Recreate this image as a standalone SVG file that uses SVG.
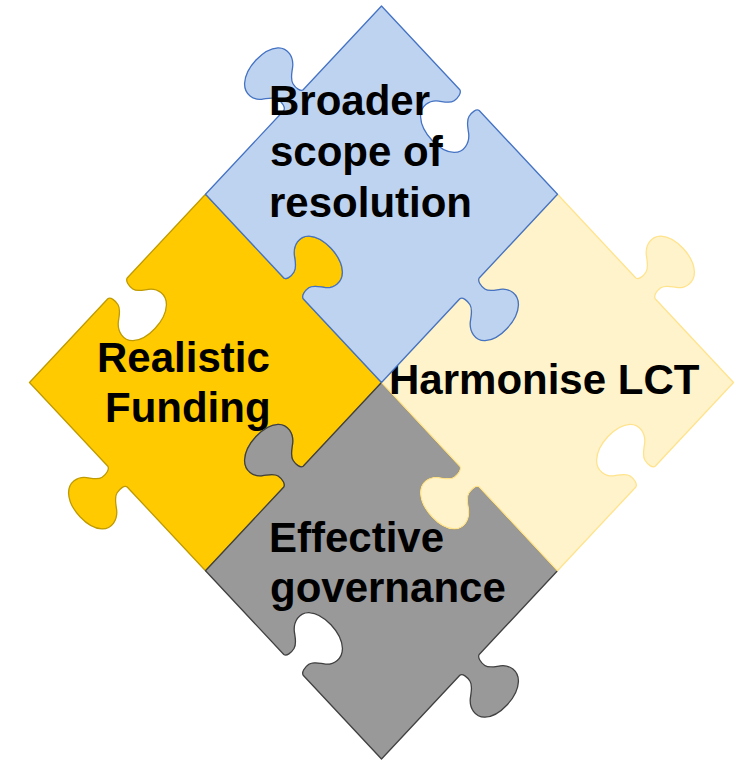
<svg xmlns="http://www.w3.org/2000/svg" width="735" height="761" viewBox="0 0 735 761">
  <style>
    .piece { stroke-width: 1.3; stroke-linejoin: round; vector-effect: non-scaling-stroke; }
    .blue { fill: #BED3EF; stroke: #4472C4; }
    .cream { fill: #FFF3CB; stroke: #FFE38C; }
    .grey { fill: #999999; stroke: #404040; }
    .gold { fill: #FFCA00; stroke: #BF9A00; }
    .label { font-family: "Liberation Sans", Arial, sans-serif; font-weight: bold; font-size: 42px; fill: #000000; }
  </style>
  <defs>
    <!-- Each piece is drawn in a square lattice (s,t) in [-100,100]; this maps it onto the diamond -->
  </defs>
  <rect width="735" height="761" fill="#FFFFFF"/>

  <!-- lower-left piece -->
  <g id="realistic-funding">
    <path class="piece gold" transform="matrix(1.76,-1.8825,-1.76,-1.8825,381.5,382.5)" d="M 0 0 L -44.5 0 C -45.8 0.3 -46.2 2.5 -45.8 4.5 C -45.4 6.5 -43.5 7.5 -41.5 9 C -38.5 11.3 -37.6 15.5 -40.5 18.3 C -43 20.6 -46.5 21.3 -50 21.3 C -53.5 21.3 -57 20.6 -59.5 18.3 C -62.4 15.5 -61.5 11.3 -58.5 9 C -56.5 7.5 -54.6 6.5 -54.2 4.5 C -53.8 2.5 -54.2 0.3 -55.5 0 L -100 0 L -100 44.5 C -100.3 45.8 -102.5 46.2 -104.5 45.8 C -106.5 45.4 -107.5 43.5 -109 41.5 C -111.3 38.5 -115.5 37.6 -118.3 40.5 C -120.6 43 -121.3 46.5 -121.3 50 C -121.3 53.5 -120.6 57 -118.3 59.5 C -115.5 62.4 -111.3 61.5 -109 58.5 C -107.5 56.5 -106.5 54.6 -104.5 54.2 C -102.5 53.8 -100.3 54.2 -100 55.5 L -100 100 L -55.5 100 C -54.2 99.7 -53.8 97.5 -54.2 95.5 C -54.6 93.5 -56.5 92.5 -58.5 91 C -61.5 88.7 -62.4 84.5 -59.5 81.7 C -57 79.4 -53.5 78.7 -50 78.7 C -46.5 78.7 -43 79.4 -40.5 81.7 C -37.6 84.5 -38.5 88.7 -41.5 91 C -43.5 92.5 -45.4 93.5 -45.8 95.5 C -46.2 97.5 -45.8 99.7 -44.5 100 L 0 100 L 0 55.5 C 0.3 54.2 2.5 53.8 4.5 54.2 C 6.5 54.6 7.5 56.5 9 58.5 C 11.3 61.5 15.5 62.4 18.3 59.5 C 20.6 57 21.3 53.5 21.3 50 C 21.3 46.5 20.6 43 18.3 40.5 C 15.5 37.6 11.3 38.5 9 41.5 C 7.5 43.5 6.5 45.4 4.5 45.8 C 2.5 46.2 0.3 45.8 0 44.5 Z"/>
    <text class="label" x="97" y="372">Realistic</text>
    <text class="label" x="105" y="422">Funding</text>
  </g>

  <!-- bottom piece -->
  <g id="effective-governance">
    <path class="piece grey" transform="matrix(1.76,-1.8825,-1.76,-1.8825,381.5,382.5)" d="M 0 0 L 0 -44.5 C -0.3 -45.8 -2.5 -46.2 -4.5 -45.8 C -6.5 -45.4 -7.5 -43.5 -9 -41.5 C -11.3 -38.5 -15.5 -37.6 -18.3 -40.5 C -20.6 -43 -21.3 -46.5 -21.3 -50 C -21.3 -53.5 -20.6 -57 -18.3 -59.5 C -15.5 -62.4 -11.3 -61.5 -9 -58.5 C -7.5 -56.5 -6.5 -54.6 -4.5 -54.2 C -2.5 -53.8 -0.3 -54.2 0 -55.5 L 0 -100 L -44.5 -100 C -45.8 -100.3 -46.2 -102.5 -45.8 -104.5 C -45.4 -106.5 -43.5 -107.5 -41.5 -109 C -38.5 -111.3 -37.6 -115.5 -40.5 -118.3 C -43 -120.6 -46.5 -121.3 -50 -121.3 C -53.5 -121.3 -57 -120.6 -59.5 -118.3 C -62.4 -115.5 -61.5 -111.3 -58.5 -109 C -56.5 -107.5 -54.6 -106.5 -54.2 -104.5 C -53.8 -102.5 -54.2 -100.3 -55.5 -100 L -100 -100 L -100 -55.5 C -99.7 -54.2 -97.5 -53.8 -95.5 -54.2 C -93.5 -54.6 -92.5 -56.5 -91 -58.5 C -88.7 -61.5 -84.5 -62.4 -81.7 -59.5 C -79.4 -57 -78.7 -53.5 -78.7 -50 C -78.7 -46.5 -79.4 -43 -81.7 -40.5 C -84.5 -37.6 -88.7 -38.5 -91 -41.5 C -92.5 -43.5 -93.5 -45.4 -95.5 -45.8 C -97.5 -46.2 -99.7 -45.8 -100 -44.5 L -100 0 L -55.5 0 C -54.2 0.3 -53.8 2.5 -54.2 4.5 C -54.6 6.5 -56.5 7.5 -58.5 9 C -61.5 11.3 -62.4 15.5 -59.5 18.3 C -57 20.6 -53.5 21.3 -50 21.3 C -46.5 21.3 -43 20.6 -40.5 18.3 C -37.6 15.5 -38.5 11.3 -41.5 9 C -43.5 7.5 -45.4 6.5 -45.8 4.5 C -46.2 2.5 -45.8 0.3 -44.5 0 Z"/>
    <text class="label" x="269" y="552">Effective</text>
    <text class="label" x="270" y="602">governance</text>
  </g>

  <!-- right piece -->
  <g id="harmonise-lct">
    <path class="piece cream" transform="matrix(1.76,-1.8825,-1.76,-1.8825,381.5,382.5)" d="M 0 0 L 44.5 0 C 45.8 -0.3 46.2 -2.5 45.8 -4.5 C 45.4 -6.5 43.5 -7.5 41.5 -9 C 38.5 -11.3 37.6 -15.5 40.5 -18.3 C 43 -20.6 46.5 -21.3 50 -21.3 C 53.5 -21.3 57 -20.6 59.5 -18.3 C 62.4 -15.5 61.5 -11.3 58.5 -9 C 56.5 -7.5 54.6 -6.5 54.2 -4.5 C 53.8 -2.5 54.2 -0.3 55.5 0 L 100 0 L 100 -44.5 C 100.3 -45.8 102.5 -46.2 104.5 -45.8 C 106.5 -45.4 107.5 -43.5 109 -41.5 C 111.3 -38.5 115.5 -37.6 118.3 -40.5 C 120.6 -43 121.3 -46.5 121.3 -50 C 121.3 -53.5 120.6 -57 118.3 -59.5 C 115.5 -62.4 111.3 -61.5 109 -58.5 C 107.5 -56.5 106.5 -54.6 104.5 -54.2 C 102.5 -53.8 100.3 -54.2 100 -55.5 L 100 -100 L 55.5 -100 C 54.2 -99.7 53.8 -97.5 54.2 -95.5 C 54.6 -93.5 56.5 -92.5 58.5 -91 C 61.5 -88.7 62.4 -84.5 59.5 -81.7 C 57 -79.4 53.5 -78.7 50 -78.7 C 46.5 -78.7 43 -79.4 40.5 -81.7 C 37.6 -84.5 38.5 -88.7 41.5 -91 C 43.5 -92.5 45.4 -93.5 45.8 -95.5 C 46.2 -97.5 45.8 -99.7 44.5 -100 L 0 -100 L 0 -55.5 C -0.3 -54.2 -2.5 -53.8 -4.5 -54.2 C -6.5 -54.6 -7.5 -56.5 -9 -58.5 C -11.3 -61.5 -15.5 -62.4 -18.3 -59.5 C -20.6 -57 -21.3 -53.5 -21.3 -50 C -21.3 -46.5 -20.6 -43 -18.3 -40.5 C -15.5 -37.6 -11.3 -38.5 -9 -41.5 C -7.5 -43.5 -6.5 -45.4 -4.5 -45.8 C -2.5 -46.2 -0.3 -45.8 0 -44.5 Z"/>
    <text class="label" x="389" y="394">Harmonise LCT</text>
  </g>

  <!-- top piece -->
  <g id="broader-scope">
    <path class="piece blue" transform="matrix(1.76,-1.8825,-1.76,-1.8825,381.5,382.5)" d="M 0 0 L 44.5 0 C 45.8 -0.3 46.2 -2.5 45.8 -4.5 C 45.4 -6.5 43.5 -7.5 41.5 -9 C 38.5 -11.3 37.6 -15.5 40.5 -18.3 C 43 -20.6 46.5 -21.3 50 -21.3 C 53.5 -21.3 57 -20.6 59.5 -18.3 C 62.4 -15.5 61.5 -11.3 58.5 -9 C 56.5 -7.5 54.6 -6.5 54.2 -4.5 C 53.8 -2.5 54.2 -0.3 55.5 0 L 100 0 L 100 44.5 C 99.7 45.8 97.5 46.2 95.5 45.8 C 93.5 45.4 92.5 43.5 91 41.5 C 88.7 38.5 84.5 37.6 81.7 40.5 C 79.4 43 78.7 46.5 78.7 50 C 78.7 53.5 79.4 57 81.7 59.5 C 84.5 62.4 88.7 61.5 91 58.5 C 92.5 56.5 93.5 54.6 95.5 54.2 C 97.5 53.8 99.7 54.2 100 55.5 L 100 100 L 55.5 100 C 54.2 100.3 53.8 102.5 54.2 104.5 C 54.6 106.5 56.5 107.5 58.5 109 C 61.5 111.3 62.4 115.5 59.5 118.3 C 57 120.6 53.5 121.3 50 121.3 C 46.5 121.3 43 120.6 40.5 118.3 C 37.6 115.5 38.5 111.3 41.5 109 C 43.5 107.5 45.4 106.5 45.8 104.5 C 46.2 102.5 45.8 100.3 44.5 100 L 0 100 L 0 55.5 C 0.3 54.2 2.5 53.8 4.5 54.2 C 6.5 54.6 7.5 56.5 9 58.5 C 11.3 61.5 15.5 62.4 18.3 59.5 C 20.6 57 21.3 53.5 21.3 50 C 21.3 46.5 20.6 43 18.3 40.5 C 15.5 37.6 11.3 38.5 9 41.5 C 7.5 43.5 6.5 45.4 4.5 45.8 C 2.5 46.2 0.3 45.8 0 44.5 Z"/>
    <text class="label" x="269" y="115">Broader</text>
    <text class="label" x="270" y="166">scope of</text>
    <text class="label" x="269" y="217">resolution</text>
  </g>
</svg>
